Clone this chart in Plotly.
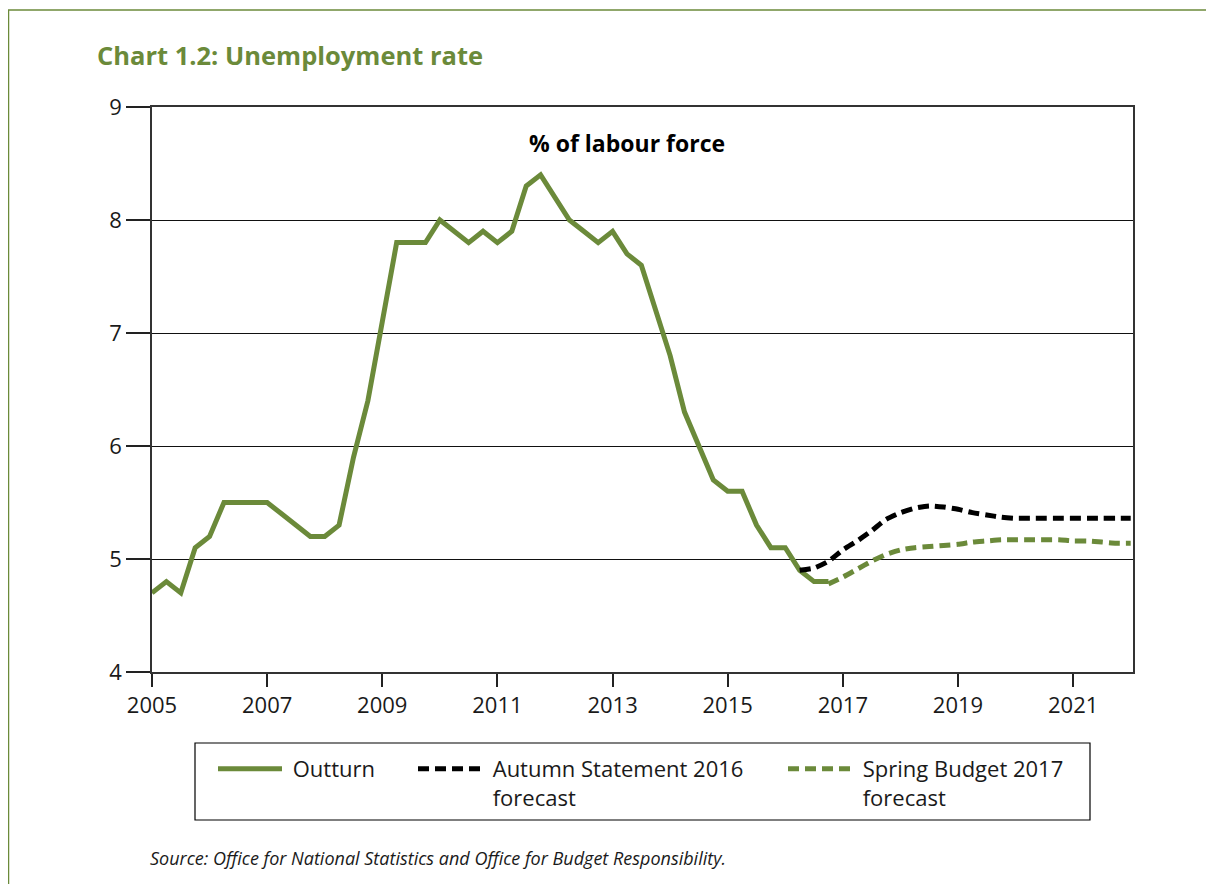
import plotly.graph_objects as go

# ---------------- data (quarterly, % of labour force) ----------------
outturn_start = "2005Q1"
outturn = [4.7, 4.8, 4.7, 5.1, 5.2, 5.5, 5.5, 5.5,
           5.5, 5.4, 5.3, 5.2, 5.2, 5.3, 5.9, 6.4,
           7.1, 7.8, 7.8, 7.8, 8.0, 7.9, 7.8, 7.9,
           7.8, 7.9, 8.3, 8.4, 8.2, 8.0, 7.9, 7.8,
           7.9, 7.7, 7.6, 7.2, 6.8, 6.3, 6.0, 5.7,
           5.6, 5.6, 5.3, 5.1, 5.1, 4.9, 4.8, 4.8]

autumn_start = "2016Q2"
autumn_2016 = [4.90, 4.92, 4.98, 5.08, 5.16, 5.25, 5.35, 5.41,
               5.45, 5.47, 5.46, 5.44, 5.41, 5.39, 5.37, 5.36,
               5.36, 5.36, 5.36, 5.36, 5.36, 5.36, 5.36, 5.36]

spring_start = "2016Q4"
spring_2017 = [4.78, 4.84, 4.91, 4.98, 5.04, 5.08, 5.10, 5.11,
               5.12, 5.13, 5.15, 5.16, 5.17, 5.17, 5.17, 5.17,
               5.17, 5.16, 5.16, 5.15, 5.14, 5.14]

tick_years = [2005, 2007, 2009, 2011, 2013, 2015, 2017, 2019, 2021]
y_ticks = [4, 5, 6, 7, 8, 9]


def quarter_axis(start, n):
    year, q = start.split("Q")
    base = int(year) + (int(q) - 1) / 4
    return [base + i / 4 for i in range(n)]


GREEN = "#6B8A3A"
OFF = 8                      # default page body margin
W, H = 1214 - OFF, 884 - OFF
# plot area in page pixels
L, R, T, B = 152, 1133, 107, 672


def px(xp):
    return (xp - L) / (R - L)


def py(yp):
    return (B - yp) / (B - T)


SP = "\u00a0"
fig = go.Figure()
fig.add_trace(go.Scatter(
    x=quarter_axis(outturn_start, len(outturn)), y=outturn,
    mode="lines", name=SP + "Outturn", legend="legend",
    line=dict(color=GREEN, width=5)))
fig.add_trace(go.Scatter(
    x=quarter_axis(autumn_start, len(autumn_2016)), y=autumn_2016,
    mode="lines", name=SP + "Autumn Statement 2016<br>" + SP + "forecast", legend="legend2",
    line=dict(color="black", width=5, dash="11px,6px", shape="spline", smoothing=0.6)))
fig.add_trace(go.Scatter(
    x=quarter_axis(spring_start, len(spring_2017)), y=spring_2017,
    mode="lines", name=SP + "Spring Budget 2017<br>" + SP + "forecast", legend="legend3",
    line=dict(color=GREEN, width=5, dash="11px,6px", shape="spline", smoothing=0.6)))

FONT = "Open Sans, Noto Sans, sans-serif"
TXT = "#1a1a1a"
leg_common = dict(orientation="h", xanchor="left", yanchor="top", valign="top",
                  font=dict(family=FONT, size=22, color=TXT),
                  bgcolor="rgba(0,0,0,0)", itemwidth=64, itemclick=False)

fig.update_layout(
    width=W, height=H,
    margin=dict(l=L - OFF, r=W - (R - OFF), t=T - OFF, b=H - (B - OFF), pad=0),
    paper_bgcolor="white", plot_bgcolor="white",
    font=dict(family=FONT, size=22, color=TXT),
    showlegend=True,
    legend=dict(x=px(213), y=py(748), **leg_common),
    legend2=dict(x=px(413), y=py(748), **leg_common),
    legend3=dict(x=px(783), y=py(748), **leg_common),
    xaxis=dict(range=[2005, 2022.04], tickvals=tick_years,
               ticktext=[str(t) for t in tick_years],
               ticks="outside", ticklen=13, tickcolor="#222", tickwidth=1.5,
               showline=True, linecolor="#333", linewidth=1.5, mirror=True,
               showgrid=False, zeroline=False,
               tickfont=dict(family=FONT, size=22, color=TXT)),
    yaxis=dict(range=[4, 9], tickvals=y_ticks,
               ticks="outside", ticklen=24, tickcolor="#222", tickwidth=1.5,
               showline=True, linecolor="#333", linewidth=1.5, mirror=True,
               showgrid=True, gridcolor="#111", gridwidth=1, zeroline=False,
               tickfont=dict(family=FONT, size=22, color=TXT)),
)

# page frame (top and left rules) and legend box
fig.add_shape(type="line", xref="paper", yref="paper",
              x0=px(8), x1=px(1214), y0=py(10), y1=py(10),
              line=dict(color=GREEN, width=1.5))
fig.add_shape(type="line", xref="paper", yref="paper",
              x0=px(8.5), x1=px(8.5), y0=py(10), y1=py(884),
              line=dict(color=GREEN, width=1.5))
fig.add_shape(type="rect", xref="paper", yref="paper",
              x0=px(195), x1=px(1090), y0=py(743), y1=py(820),
              line=dict(color="black", width=1.2))

fig.add_annotation(text="<b>Chart 1.2: Unemployment rate</b>", xref="paper", yref="paper",
                   x=px(95), y=py(55), xanchor="left", yanchor="middle", showarrow=False,
                   font=dict(family=FONT, size=25.5, color=GREEN))
fig.add_annotation(text="<b>% of labour force</b>", xref="paper", yref="paper",
                   x=px(627), y=py(143), xanchor="center", yanchor="middle", showarrow=False,
                   font=dict(family=FONT, size=23, color="black"))
fig.add_annotation(text="<i>Source: Office for National Statistics and Office for Budget Responsibility.</i>",
                   xref="paper", yref="paper",
                   x=px(148), y=py(858), xanchor="left", yanchor="middle", showarrow=False,
                   font=dict(family=FONT, size=18, color=TXT))

fig.write_html("out.html")
